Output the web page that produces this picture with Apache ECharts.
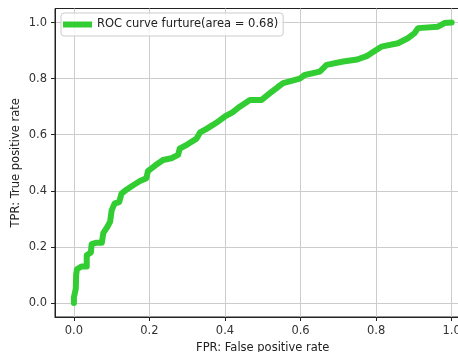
<!DOCTYPE html>
<html>
<head>
<meta charset="utf-8">
<script src="https://cdn.jsdelivr.net/npm/echarts@6/dist/echarts.min.js"></script>
<style>
html,body{margin:0;padding:0;background:#fff;}
#chart{width:458px;height:352px;}
</style>
</head>
<body>
<div id="chart"></div>
<script>
const seriesName = 'ROC curve furture(area = 0.68)';
const xTicks = [0, 0.2, 0.4, 0.6, 0.8, 1.0];
const yTicks = [0, 0.2, 0.4, 0.6, 0.8, 1.0];
const fpr = [0, 0, 0.005, 0.006, 0.008, 0.02, 0.034, 0.034, 0.045, 0.047, 0.06, 0.074, 0.078, 0.088, 0.096, 0.1, 0.108, 0.12, 0.126, 0.14, 0.157, 0.175, 0.192, 0.196, 0.215, 0.236, 0.258, 0.276, 0.28, 0.3, 0.324, 0.334, 0.35, 0.368, 0.385, 0.4, 0.42, 0.439, 0.466, 0.497, 0.519, 0.54, 0.554, 0.598, 0.611, 0.651, 0.669, 0.713, 0.75, 0.775, 0.79, 0.814, 0.858, 0.884, 0.902, 0.911, 0.964, 0.981, 1.0];
const tpr = [0, 0.02, 0.05, 0.1, 0.12, 0.13, 0.13, 0.17, 0.18, 0.21, 0.215, 0.215, 0.25, 0.27, 0.29, 0.33, 0.355, 0.36, 0.39, 0.405, 0.42, 0.435, 0.445, 0.47, 0.49, 0.51, 0.516, 0.528, 0.55, 0.565, 0.585, 0.608, 0.62, 0.635, 0.65, 0.665, 0.68, 0.7, 0.724, 0.724, 0.748, 0.77, 0.784, 0.8, 0.813, 0.825, 0.849, 0.861, 0.868, 0.88, 0.893, 0.914, 0.926, 0.944, 0.962, 0.98, 0.985, 0.998, 1.0];

const font = 'DejaVu Sans';
const fs = 11.5;
const chart = echarts.init(document.getElementById('chart'), null, {renderer: 'canvas'});
const pts = fpr.map((x, i) => [x, tpr[i]]);
chart.setOption({
  animation: false,
  backgroundColor: '#fff',
  textStyle: {fontFamily: font},
  grid: {left: 55, top: 8.5, width: 415.5, height: 308.5, containLabel: false, outerBoundsMode: 'none',
         show: true, borderColor: '#222', borderWidth: 1, backgroundColor: 'transparent'},
  legend: {
    show: true, left: 61, top: 13, orient: 'vertical',
    padding: [5.5, 5, 5.5, 2],
    icon: 'rect', itemWidth: 29, itemHeight: 6,
    borderColor: '#cccccc', borderWidth: 1, borderRadius: 3, backgroundColor: 'rgba(255,255,255,0.8)',
    textStyle: {fontFamily: font, fontSize: fs, color: '#222'},
    data: [seriesName]
  },
  xAxis: {
    type: 'value', min: -0.05, max: 1.05,
    name: 'FPR: False positive rate', nameLocation: 'middle', nameGap: 25, nameMoveOverlap: false,
    nameTextStyle: {fontFamily: font, fontSize: fs, color: '#222'},
    axisLine: {show: true, onZero: false, lineStyle: {color: '#222', width: 1}},
    axisTick: {show: true, length: 4, customValues: xTicks, lineStyle: {color: '#222'}},
    axisLabel: {customValues: xTicks, margin: 8, fontFamily: font, fontSize: fs, color: '#333', formatter: v => v.toFixed(1)},
    splitLine: {show: true, lineStyle: {color: '#cccccc', width: 1}}
  },
  yAxis: {
    type: 'value', min: -0.05, max: 1.05,
    name: 'TPR: True positive rate', nameLocation: 'middle', nameGap: 33, nameMoveOverlap: false,
    nameTextStyle: {fontFamily: font, fontSize: fs, color: '#222'},
    axisLine: {show: true, onZero: false, lineStyle: {color: '#222', width: 1}},
    axisTick: {show: true, length: 4, customValues: yTicks, lineStyle: {color: '#222'}},
    axisLabel: {customValues: yTicks, margin: 8, fontFamily: font, fontSize: fs, color: '#333', formatter: v => v.toFixed(1)},
    splitLine: {show: true, lineStyle: {color: '#cccccc', width: 1}}
  },
  series: [{
    name: seriesName, type: 'line', data: pts, showSymbol: false, symbol: 'none',
    lineStyle: {color: '#32cd32', width: 6, join: 'round', cap: 'round'},
    itemStyle: {color: '#32cd32'},
    z: 3
  }]
});
</script>
</body>
</html>
